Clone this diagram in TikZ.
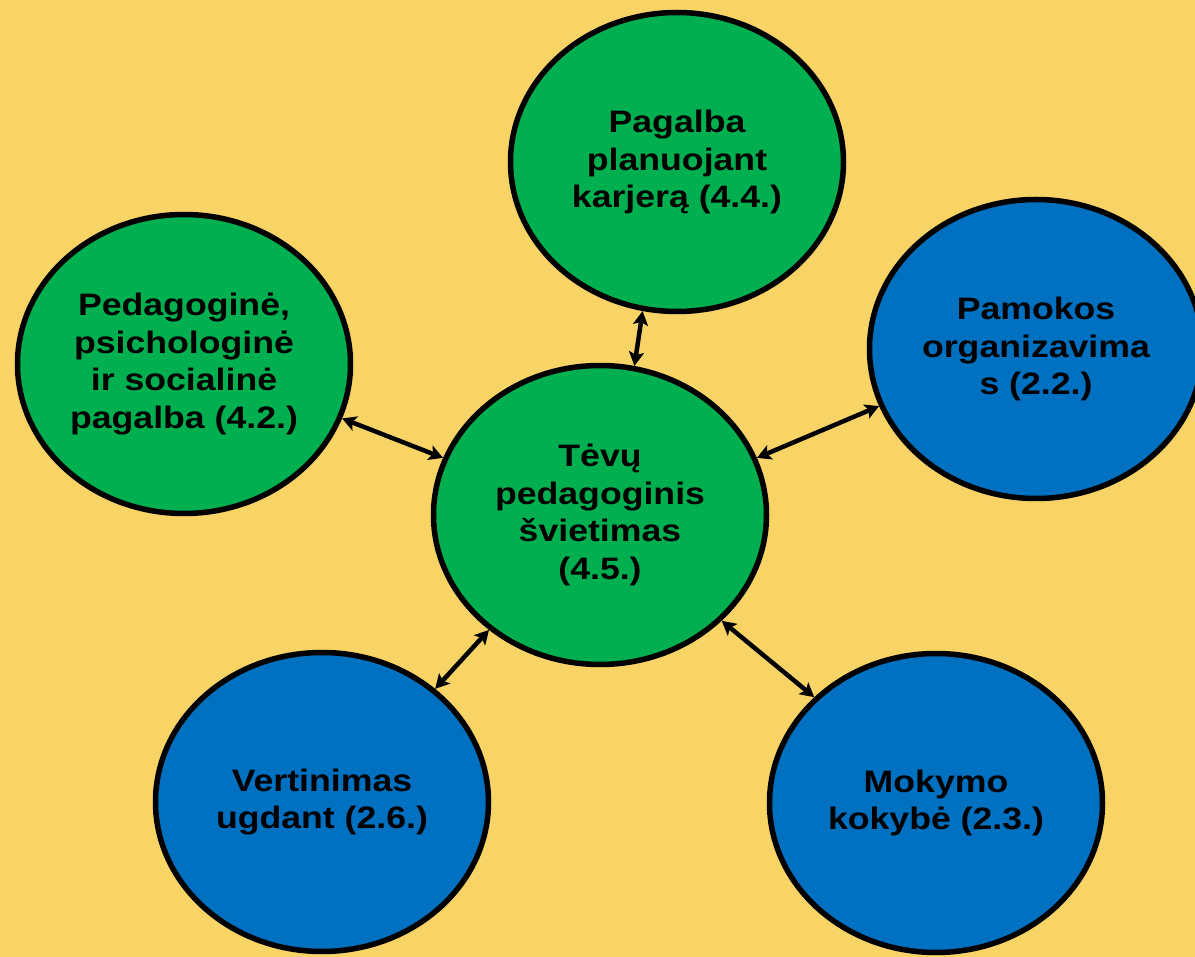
\documentclass[tikz,border=0pt]{standalone}
\usepackage{fontspec}
\setmainfont[FakeStretch=1.15]{Liberation Sans}
\usetikzlibrary{arrows.meta,shapes.geometric}
\definecolor{bgyellow}{RGB}{248,211,102}
\definecolor{ngreen}{RGB}{0,176,80}
\definecolor{nblue}{RGB}{0,112,192}
\tikzset{
  bubble/.style={ellipse, draw=black, line width=5.5pt, minimum width=333pt, minimum height=299pt, inner sep=0pt, align=center, font=\bfseries\fontsize{31}{37.5}\selectfont, text=black},
  gbubble/.style={bubble, fill=ngreen},
  bbubble/.style={bubble, fill=nblue},
  arr/.style={line width=4.5pt, {Stealth[length=14pt,width=15pt,inset=3pt]}-{Stealth[length=14pt,width=15pt,inset=3pt]}}
}
\begin{document}
\begin{tikzpicture}[x=1pt,y=-1pt]
\useasboundingbox (0,0) rectangle (1195,957);
\clip (0,0) rectangle (1195,957);
\fill[bgyellow] (0,0) rectangle (1195,957);
\node[gbubble] (T) at (677,162) {Pagalba\\planuojant\\karjerą (4.4.)};
\node[gbubble] (L) at (184,364) {Pedagoginė,\\psichologinė\\ir socialinė\\pagalba (4.2.)};
\node[bbubble] (R) at (1036,349) {Pamokos\\organizavima\\s (2.2.)};
\node[gbubble] (C) at (600,515) {Tėvų\\pedagoginis\\švietimas\\(4.5.)};
\node[bbubble] (BL) at (322,802) {Vertinimas\\ugdant (2.6.)};
\node[bbubble] (BR) at (936,803) {Mokymo\\kokybė (2.3.)};
\draw[arr] (T.257.5) -- (C.77.75);
\draw[arr] (L.-19.5) -- (C.160);
\draw[arr] (R.200.6) -- (C.20.5);
\draw[arr] (BL.45.5) -- (C.226.3);
\draw[arr] (BR.139.5) -- (C.-41);
\end{tikzpicture}
\end{document}
